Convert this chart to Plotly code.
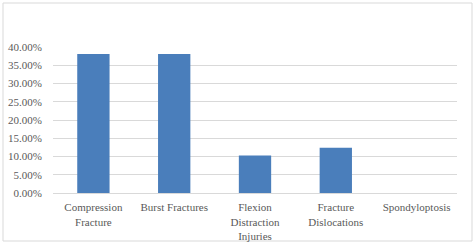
import plotly.graph_objects as go

categories = ["Compression<br>Fracture", "Burst Fractures", "Flexion<br>Distraction<br>Injuries",
              "Fracture<br>Dislocations", "Spondyloptosis"]
values = [0.381, 0.381, 0.103, 0.124, 0.0]
tick_vals = [0, 0.05, 0.10, 0.15, 0.20, 0.25, 0.30, 0.35, 0.40]
tick_text = ["0.00%", "5.00%", "10.00%", "15.00%", "20.00%", "25.00%", "30.00%", "35.00%", "40.00%"]

W, H = 476, 247
ml, mr, mt, mb = 53, 19, 47, 54
pw, ph = W - ml - mr, H - mt - mb

FONT = "Times New Roman"

fig = go.Figure(go.Bar(x=categories, y=values, marker=dict(color="#4A7EBB", line=dict(width=0)),
                       width=0.4))

def px_to_paper_x(p):
    return (p - ml) / pw

def px_to_paper_y(p):
    return (H - mb - p) / ph

fig.add_shape(type="rect", xref="paper", yref="paper",
              x0=px_to_paper_x(3), x1=px_to_paper_x(472),
              y0=px_to_paper_y(241), y1=px_to_paper_y(3),
              line=dict(color="#d9d9d9", width=1), fillcolor="rgba(0,0,0,0)", layer="below")

fig.update_layout(
    width=W, height=H,
    margin=dict(l=ml, r=mr, t=mt, b=mb, pad=0),
    paper_bgcolor="white", plot_bgcolor="white",
    showlegend=False,
    font=dict(family=FONT, size=11, color="#595959"),
    bargap=0.6,
    xaxis=dict(showgrid=False, showline=True, linecolor="#d9d9d9", linewidth=1, automargin=False,
               ticks="outside", ticklen=4, tickcolor="rgba(0,0,0,0)", tickangle=0,
               tickfont=dict(family=FONT, size=11, color="#595959")),
    yaxis=dict(range=[0, 0.40], tickvals=tick_vals, ticktext=tick_text, automargin=False,
               showgrid=True, gridcolor="#d9d9d9", gridwidth=1, zeroline=False,
               showline=False, ticks="outside", ticklen=8, tickcolor="rgba(0,0,0,0)",
               tickfont=dict(family=FONT, size=11, color="#595959")),
)

fig.write_html("out.html")
